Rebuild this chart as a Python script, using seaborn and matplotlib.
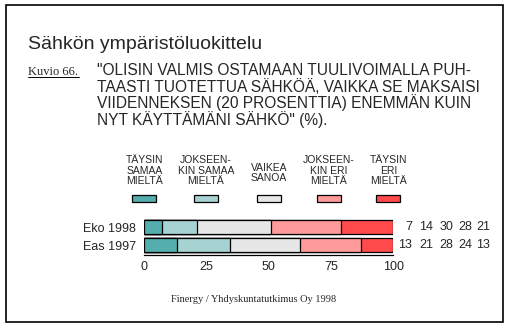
import numpy as np
import pandas as pd
import matplotlib
matplotlib.use("Agg")
import matplotlib.pyplot as plt
from matplotlib.patches import Rectangle
from matplotlib.lines import Line2D
import seaborn as sns

# ---- data ----
groups = ["Eko 1998", "Eas 1997"]
categories = ["TÄYSIN\nSAMAA\nMIELTÄ", "JOKSEEN-\nKIN SAMAA\nMIELTÄ", "VAIKEA\nSANOA",
              "JOKSEEN-\nKIN ERI\nMIELTÄ", "TÄYSIN\nERI\nMIELTÄ"]
eko_1998 = [7, 14, 30, 28, 21]
eas_1997 = [13, 21, 28, 24, 13]
colors = ["#54AEAE", "#A6D2D2", "#E6E6E6", "#FF9A9A", "#FF4B4B"]
xticks = [0, 25, 50, 75, 100]

title = "Sähkön ympäristöluokittelu"
fig_label = "Kuvio 66."
question_lines = ['"OLISIN VALMIS OSTAMAAN TUULIVOIMALLA PUH-',
                  'TAASTI TUOTETTUA SÄHKÖÄ, VAIKKA SE MAKSAISI',
                  'VIIDENNEKSEN (20 PROSENTTIA) ENEMMÄN KUIN',
                  'NYT KÄYTTÄMÄNI SÄHKÖ" (%).']
source = "Finergy / Yhdyskuntatutkimus Oy 1998"

sns.set_style("white")
plt.rcParams["font.family"] = ["Liberation Sans", "DejaVu Sans"]

W, H = 508, 327
fig = plt.figure(figsize=(W / 100, H / 100), dpi=100)
fig.patch.set_facecolor("white")

def fx(x):
    return x / W

def fy(y):
    return 1 - y / H

# axes placement
ax_left, ax_right = 144.3, 393.3
ax_top, ax_bot = 216.2, 255.0
ax = fig.add_axes([fx(ax_left), fy(ax_bot), (ax_right - ax_left) / W, (ax_bot - ax_top) / H])

# cumulative (normalized to 100) data
rows = []
series = [eko_1998, eas_1997]
for g, vals in zip(groups, series):
    tot = sum(vals)
    cum = np.cumsum(vals) / tot * 100
    for i, c in enumerate(cum):
        rows.append({"group": g, "level": i, "cum": c})
df = pd.DataFrame(rows)

for i in reversed(range(len(categories))):
    sub = df[df["level"] == i]
    sns.barplot(data=sub, x="cum", y="group", order=groups, color=colors[i],
                orient="h", width=0.78, edgecolor="black", linewidth=0.9,
                saturation=1, ax=ax, errorbar=None)

ax.set_xlim(0, 100)
ax.set_ylim(1.53, -0.6)
ax.set_xticks(xticks)
ax.set_xticklabels([str(t) for t in xticks], fontsize=9)
ax.set_xlabel("")
ax.set_ylabel("")
for s in ["top", "right", "left"]:
    ax.spines[s].set_visible(False)
ax.spines["bottom"].set_color("black")
ax.spines["bottom"].set_linewidth(0.9)
ax.tick_params(axis="x", direction="out", length=2.5, width=0.9, color="black", pad=2)
ax.tick_params(axis="y", length=0, pad=5.8, labelsize=9)
ax.set_facecolor("none")

# numbers on the right
num_px = [412, 433, 453, 472, 490]
for row, vals in enumerate(series):
    for xp, v in zip(num_px, vals):
        ax.text((xp - ax_left) / (ax_right - ax_left) * 100, row, str(v),
                ha="right", va="center", fontsize=9, clip_on=False)

# legend
leg_cx = [144.3, 206.0, 269.0, 328.7, 388.3]
for cx, lab, col in zip(leg_cx, categories, colors):
    fig.patches.append(Rectangle((fx(cx - 12), fy(202.3)), 24 / W, 7.3 / H,
                                 transform=fig.transFigure, facecolor=col,
                                 edgecolor="black", linewidth=0.9))
    nlines = lab.count("\n") + 1
    cy = 170.5 if nlines == 3 else 173.0
    fig.text(fx(cx), fy(cy), lab, ha="center", va="center", fontsize=7.5,
             multialignment="center", linespacing=1.12)

# titles
fig.text(fx(28), fy(49), title, fontsize=14, ha="left", va="baseline")
fig.text(fx(28), fy(75), fig_label, fontsize=9, ha="left", va="baseline",
         family=["Liberation Serif", "DejaVu Serif"])
fig.add_artist(Line2D([fx(28), fx(79)], [fy(77.5), fy(77.5)], transform=fig.transFigure,
                      color="black", linewidth=0.7))
for k, line in enumerate(question_lines):
    fig.text(fx(97), fy(75 + k * 16.7), line, fontsize=11.2, ha="left", va="baseline")

fig.text(fx(254), fy(302), source, fontsize=7.5, ha="center", va="baseline",
         family=["Liberation Serif", "DejaVu Serif"])

# frame
fig.patches.append(Rectangle((fx(5.5), fy(322)), (502.7 - 5.5) / W, (322 - 5) / H,
                             transform=fig.transFigure, facecolor="none",
                             edgecolor="black", linewidth=1.2))

fig.savefig("out.png", dpi=100)
